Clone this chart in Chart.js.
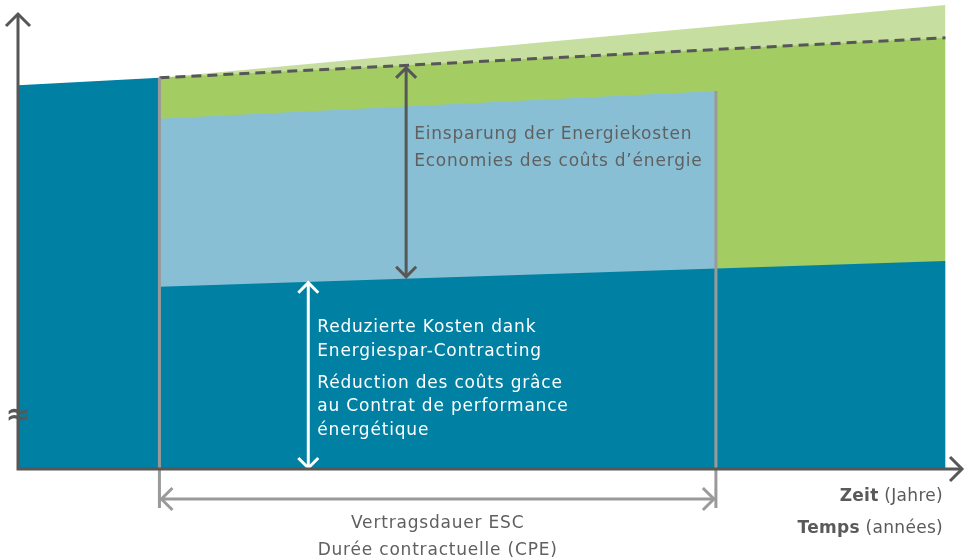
<!DOCTYPE html>
<html>
<head>
<meta charset="utf-8">
<script src="https://cdn.jsdelivr.net/npm/chart.js@4"></script>
<style>
  html, body { margin: 0; padding: 0; background: #fff; }
  #wrap { width: 972px; height: 560px; }
</style>
</head>
<body>
<div id="wrap"><canvas id="chart"></canvas></div>
<script>
// schematic time axis (years) and cost levels (arbitrary units)
const costBeforeX = [0, 3.05];
const costBefore = [84.3, 85.9];
const costReducedX = [3.05, 20];
const costReduced = [40.0, 45.7];
const costContractX = [3.05, 15.05];
const costContract = [76.9, 83.0];
const baselineX = [3.05, 20];
const baselineCost = [85.9, 94.7];
const upperCost = [85.9, 101.9];
const contractX = [3.05, 15.05];
// arrows: [x, yFrom, yTo]
const savingsArrow = [8.37, 42.2, 88.1];
const reducedArrow = [6.26, 0, 40.9];
const contractArrowY = -6.6;
const guideBottom = -8.6;

const TEAL = '#0081a3';
const LIGHT_BLUE = '#89bfd5';
const GREEN = '#a3cd63';
const LIGHT_GREEN = '#c6dfa0';
const GUIDE = '#9a9a9a';
const DARK = '#575757';

const pts = (xs, ys) => xs.map((x, i) => ({ x: x, y: ys[i] }));

function area(data, color, order, extra) {
  return Object.assign({
    data: data,
    backgroundColor: color,
    borderColor: color,
    borderWidth: 0,
    fill: 'origin',
    pointRadius: 0,
    tension: 0,
    order: order
  }, extra || {});
}

function line(data, color, order) {
  return {
    data: data,
    borderColor: color,
    borderWidth: 3,
    fill: false,
    pointRadius: 0,
    tension: 0,
    order: order
  };
}

function head(ctx, x, y, angle, size) {
  ctx.save();
  ctx.translate(x, y);
  ctx.rotate(angle);
  ctx.beginPath();
  ctx.moveTo(-size, -size);
  ctx.lineTo(0, 0);
  ctx.lineTo(-size, size);
  ctx.stroke();
  ctx.restore();
}

function vArrow(ctx, x, y1, y2, color) {
  ctx.strokeStyle = color;
  ctx.lineWidth = 3;
  ctx.beginPath();
  ctx.moveTo(x, y1);
  ctx.lineTo(x, y2);
  ctx.stroke();
  head(ctx, x, y2, -Math.PI / 2, 10);
  head(ctx, x, y1, Math.PI / 2, 10);
}

const FONT = '17px "DejaVu Sans"';
const BOLD = 'bold 17px "DejaVu Sans"';

const decorations = {
  id: 'decorations',
  afterDatasetsDraw(chart) {
    const ctx = chart.ctx;
    const xs = chart.scales.x, ys = chart.scales.y;
    const area = chart.chartArea;
    ctx.save();
    ctx.lineCap = 'butt';

    // contract duration arrow heads
    ctx.strokeStyle = GUIDE;
    ctx.lineWidth = 3;
    const ya = ys.getPixelForValue(contractArrowY);
    head(ctx, xs.getPixelForValue(contractX[0]) + 2, ya, Math.PI, 11);
    head(ctx, xs.getPixelForValue(contractX[1]) - 2, ya, 0, 11);

    // savings arrow
    vArrow(ctx, xs.getPixelForValue(savingsArrow[0]),
      ys.getPixelForValue(savingsArrow[1]), ys.getPixelForValue(savingsArrow[2]), DARK);
    // reduced cost arrow
    vArrow(ctx, xs.getPixelForValue(reducedArrow[0]),
      ys.getPixelForValue(reducedArrow[1]) - 1, ys.getPixelForValue(reducedArrow[2]), '#ffffff');

    // axes
    const x0 = xs.getPixelForValue(0), y0 = ys.getPixelForValue(0);
    ctx.strokeStyle = DARK;
    ctx.lineWidth = 3;
    ctx.beginPath();
    ctx.moveTo(x0, y0 + 1.5);
    ctx.lineTo(x0, area.top + 14);
    ctx.moveTo(x0, y0);
    ctx.lineTo(area.right - 2, y0);
    ctx.stroke();
    head(ctx, x0, area.top + 14, -Math.PI / 2, 12);
    head(ctx, area.right - 2, y0, 0, 12);

    // axis break
    ctx.fillStyle = DARK;
    ctx.font = 'bold 30px "DejaVu Sans"';
    ctx.textAlign = 'center';
    ctx.textBaseline = 'middle';
    ctx.fillText('\u2248', x0, ys.getPixelForValue(11.5));

    // texts
    ctx.letterSpacing = '0.8px';
    ctx.textAlign = 'left';
    ctx.textBaseline = 'alphabetic';
    ctx.font = FONT;
    ctx.fillStyle = '#606060';
    const tx = xs.getPixelForValue(savingsArrow[0]) + 8;
    ctx.fillText('Einsparung der Energiekosten', tx, 139);
    ctx.fillText('Economies des co\u00fbts d\u2019\u00e9nergie', tx, 166);

    ctx.fillStyle = '#ffffff';
    const wx = xs.getPixelForValue(reducedArrow[0]) + 9;
    ctx.fillText('Reduzierte Kosten dank', wx, 332);
    ctx.fillText('Energiespar-Contracting', wx, 356);
    ctx.fillText('R\u00e9duction des co\u00fbts gr\u00e2ce', wx, 388);
    ctx.fillText('au Contrat de performance', wx, 411);
    ctx.fillText('\u00e9nerg\u00e9tique', wx, 435);

    ctx.fillStyle = '#606060';
    ctx.textAlign = 'center';
    const cx = (xs.getPixelForValue(contractX[0]) + xs.getPixelForValue(contractX[1])) / 2;
    ctx.fillText('Vertragsdauer ESC', cx, 528);
    ctx.fillText('Dur\u00e9e contractuelle (CPE)', cx, 555);

    // axis title, right aligned with mixed weights
    const rx = 943;
    function mixed(bold, normal, y) {
      ctx.textAlign = 'left';
      ctx.font = FONT;
      const wn = ctx.measureText(normal).width;
      ctx.font = BOLD;
      const wb = ctx.measureText(bold).width;
      ctx.fillText(bold, rx - wn - wb, y);
      ctx.font = FONT;
      ctx.fillText(normal, rx - wn, y);
    }
    ctx.fillStyle = '#5a5a5a';
    ctx.letterSpacing = '0.3px';
    mixed('Zeit', ' (Jahre)', 501);
    mixed('Temps', ' (ann\u00e9es)', 533);

    ctx.restore();
  }
};

new Chart(document.getElementById('chart'), {
  type: 'line',
  data: {
    datasets: [
      area(pts(baselineX, upperCost), LIGHT_GREEN, 10),
      Object.assign(area(pts(baselineX, baselineCost), GREEN, 9), {
        borderColor: DARK, borderWidth: 3, borderDash: [10, 6]
      }),
      area(pts(costContractX, costContract), LIGHT_BLUE, 8),
      area(pts(costBeforeX.concat(costReducedX), costBefore.concat(costReduced)), TEAL, 7),
      line([{ x: contractX[0], y: baselineCost[0] }, { x: contractX[0], y: guideBottom }], GUIDE, 5),
      line([{ x: contractX[1], y: costContract[1] }, { x: contractX[1], y: guideBottom }], GUIDE, 5),
      line(pts(contractX, [contractArrowY, contractArrowY]), GUIDE, 5)
    ]
  },
  options: {
    responsive: true,
    maintainAspectRatio: false,
    animation: false,
    events: [],
    layout: { padding: { left: 18, right: 8, top: 0, bottom: 0 } },
    scales: {
      x: { type: 'linear', min: 0, max: 20.4, display: false },
      y: { min: -20, max: 103, display: false }
    },
    plugins: {
      legend: { display: false },
      tooltip: { enabled: false }
    }
  },
  plugins: [decorations]
});
</script>
</body>
</html>
